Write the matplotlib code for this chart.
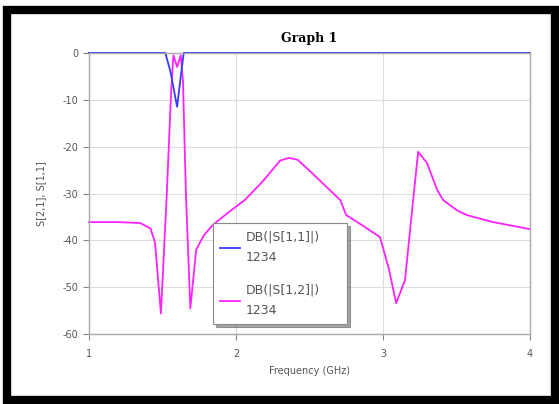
import numpy as np
import matplotlib.pyplot as plt
from matplotlib.patches import Rectangle
from matplotlib.lines import Line2D

plt.rcParams['axes.unicode_minus'] = False

# S[1,1] trace (blue)
f_s11 = [1.0, 1.52, 1.555, 1.60, 1.625, 1.645, 4.0]
db_s11 = [0.0, 0.0, -4.0, -11.5, -5.0, 0.0, 0.0]

# S[1,2] trace (magenta)
f_s12 = [1.0, 1.2, 1.35, 1.42, 1.45, 1.49, 1.53, 1.56, 1.575, 1.60, 1.625,
         1.64, 1.66, 1.69, 1.73, 1.78, 1.84, 1.95, 2.06, 2.18, 2.30, 2.36,
         2.42, 2.52, 2.64, 2.71, 2.75, 2.86, 2.98, 3.04, 3.09, 3.15, 3.21,
         3.24, 3.30, 3.37, 3.41, 3.50, 3.57, 3.75, 4.0]
db_s12 = [-36.1, -36.1, -36.3, -37.5, -40.5, -55.6, -30.0, -8.0, -0.5, -3.0, -0.5,
          -6.0, -30.0, -54.5, -42.0, -39.0, -36.8, -34.0, -31.4, -27.5, -23.0, -22.4,
          -22.8, -25.7, -29.3, -31.4, -34.6, -36.8, -39.3, -46.0, -53.4, -48.5, -30.0,
          -21.1, -23.5, -29.3, -31.4, -33.5, -34.6, -36.1, -37.6]

xticks = [1, 2, 3, 4]
yticks = [0, -10, -20, -30, -40, -50, -60]
legend_labels = ['DB(|S[1,1]|)\n1234', 'DB(|S[1,2]|)\n1234']

blue = '#3a3aff'
magenta = '#ff22ff'
tick_gray = '#555555'

fig = plt.figure(figsize=(5.59, 4.04), dpi=100)
ax = fig.add_axes([0.159, 0.173, 0.789, 0.696])

ax.plot(f_s12, db_s12, color=magenta, linewidth=1.3, clip_on=False)
ax.plot(f_s11, db_s11, color=blue, linewidth=1.3, clip_on=False)

ax.set_xlim(1, 4)
ax.set_ylim(-60, 0)
ax.set_xticks(xticks)
ax.set_yticks(yticks)
ax.grid(True, color='#dddddd', linewidth=0.8)
ax.set_axisbelow(True)
for s in ax.spines.values():
    s.set_color('#aaaaaa')
    s.set_linewidth(1.0)
ax.tick_params(colors='#888888', labelcolor=tick_gray, labelsize=7, length=4, direction='out')
ax.xaxis.set_tick_params(pad=7)

ax.set_title('Graph 1', fontfamily='DejaVu Serif', fontweight='bold', fontsize=9, pad=8)
ax.set_xlabel('Frequency (GHz)', fontsize=7, color=tick_gray, labelpad=5)
ax.set_ylabel('S[2,1], S[1,1]', fontsize=7, color=tick_gray, labelpad=12)

handles = [Line2D([], [], color=blue, linewidth=1.3),
           Line2D([], [], color=magenta, linewidth=1.3)]
leg = ax.legend(handles, legend_labels,
                loc='upper left', bbox_to_anchor=(0.281, 0.014, 0.304, 0.381),
                mode='expand',
                fontsize=9, frameon=True, fancybox=False, shadow=True,
                handlelength=1.6, handletextpad=0.4, labelspacing=1.6,
                borderpad=0.6, borderaxespad=0, labelcolor=tick_gray)
for t in leg.get_texts():
    t.set_linespacing(1.7)
leg.get_frame().set_edgecolor('#888888')
leg.get_frame().set_linewidth(0.8)

# black frame around the whole picture
fig.patches.append(Rectangle((0.013, 0.01), 0.98, 0.966, transform=fig.transFigure,
                             fill=False, edgecolor='black', linewidth=6))

fig.savefig('out.png', dpi=100)
